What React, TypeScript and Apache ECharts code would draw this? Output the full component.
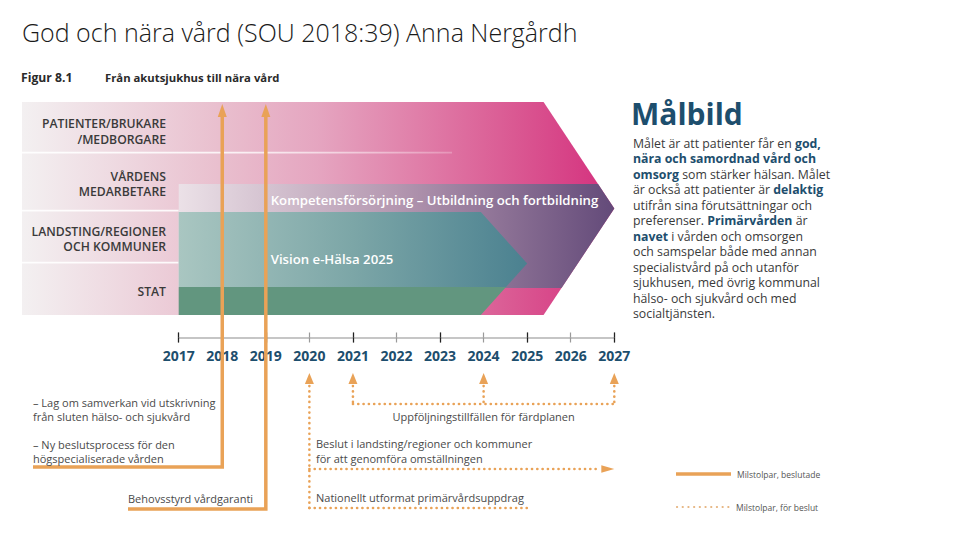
import React, { useEffect, useRef } from 'react';
import * as echarts from 'echarts';

// ---------------- data ----------------
const years = [2017, 2018, 2019, 2020, 2021, 2022, 2023, 2024, 2025, 2026, 2027];
const yearLabels = ['2017', '2018', '2019', '2020', '2021', '2022', '2023', '2024', '2025', '2026', '2027'];
const titleText = 'God och nära vård (SOU 2018:39) Anna Nergårdh';
const figureNumber = 'Figur 8.1';
const figureTitle = 'Från akutsjukhus till nära vård';
const rowLabels = ['PATIENTER/BRUKARE\n/MEDBORGARE', 'VÅRDENS\nMEDARBETARE', 'LANDSTING/REGIONER\nOCH KOMMUNER', 'STAT'];
const frameEndYear = 2027;
const bandNames = ['Kompetensförsörjning – Utbildning och fortbildning', 'Vision e-Hälsa 2025'];
const bandStartYears = [2017, 2017];
const bandEndYears = [2027, 2025];
const decidedYears = [2018, 2019];
const decidedTexts = [
  '– Lag om samverkan vid utskrivning\nfrån sluten hälso- och sjukvård\n\n– Ny beslutsprocess för den\nhögspecialiserade vården',
  'Behovsstyrd vårdgaranti',
];
const plannedYear = 2020;
const plannedBranchEndYears = [2027, 2025];
const plannedBranchTexts = [
  'Beslut i landsting/regioner och kommuner\nför att genomföra omställningen',
  'Nationellt utformat primärvårdsuppdrag',
];
const followUpYears = [2021, 2024, 2027];
const followUpText = 'Uppföljningstillfällen för färdplanen';
const legendLabels = ['Milstolpar, beslutade', 'Milstolpar, för beslut'];
const goalTitle = 'Målbild';
const goalLines: [boolean, string][][] = [
  [[false, 'Målet är att patienter får en '], [true, 'god,']],
  [[true, 'nära och samordnad vård och']],
  [[true, 'omsorg'], [false, ' som stärker hälsan. Målet']],
  [[false, 'är också att patienter är '], [true, 'delaktig']],
  [[false, 'utifrån sina förutsättningar och']],
  [[false, 'preferenser. '], [true, 'Primärvården'], [false, ' är']],
  [[true, 'navet'], [false, ' i vården och omsorgen']],
  [[false, 'och samspelar både med annan']],
  [[false, 'specialistvård på och utanför']],
  [[false, 'sjukhusen, med övrig kommunal']],
  [[false, 'hälso- och sjukvård och med']],
  [[false, 'socialtjänsten.']],
];

// ---------------- layout / style ----------------
const ORANGE = '#e9a257';
const BLUE = '#1d4e6d';
const FONT = 'Open Sans';
const L = {
  frameLeft: 22,
  frameTop: 102,
  frameBottom: 315,
  frameSlope: 0.664,
  rowLabelY: [131.5, 183.7, 239, 291],
  bands: [
    { top: 184, bottom: 288, tipY: 208.5, slope: 0.664, split: 0, labelY: 200,
      colors: ['#ebe1e7', '#b497b0', '#634a79'] },
    { top: 212, bottom: 315, tipY: 263.5, slope: 0.9, split: 287, labelY: 259,
      colors: ['#a9c6c1', '#7ca6a7', '#4b8190'], lower: '#62967f' },
  ],
  bandLabelDX: 92,
  decided: [
    { startX: 33, baseY: 467, textTop: 395 },
    { startX: 128, baseY: 509, textTop: 491 },
  ],
  decidedTipY: 104,
  planned: { tipY: 373, branchY: [469, 508], branchArrow: [true, false], textX: 316, textTop: [436, 490] },
  followUp: { tipY: 373, baseY: 404, textY: 416 },
};

const grad = (stops: string[]) =>
  new echarts.graphic.LinearGradient(0, 0, 1, 0, stops.map((c, i) => ({ offset: i / (stops.length - 1), color: c })));

const dotted = (points: number[][]) => ({
  type: 'polyline',
  shape: { points },
  style: { stroke: ORANGE, lineWidth: 2.6, lineDash: [0.1, 5.2], lineCap: 'round', fill: 'none' },
});
const upArrow = (x: number, tipY: number, hw = 4.5, h = 11) => ({
  type: 'polygon',
  shape: { points: [[x, tipY], [x - hw, tipY + h], [x + hw, tipY + h]] },
  style: { fill: ORANGE },
});
const smallText = (text: string, x: number, y: number, extra: any = {}) => ({
  type: 'text',
  style: { text, x, y, fill: '#4a4a4a', fontSize: 11, fontFamily: FONT, lineHeight: 15, verticalAlign: 'top', ...extra },
});

const goalRich = goalLines
  .map((segs) => segs.map(([b, t]) => `{${b ? 'b' : 'r'}|${t}}`).join(''))
  .join('\n');

const xBase = {
  type: 'value',
  min: years[0],
  max: years[years.length - 1],
  position: 'bottom',
  splitLine: { show: false },
  axisLabel: { show: false },
  axisLine: { show: false },
};

const option: any = {
  animation: false,
  backgroundColor: '#ffffff',
  grid: { left: 178.7, right: 345.7, top: 100, bottom: 202.5, containLabel: false, outerBoundsMode: 'none' },
  yAxis: { type: 'value', min: 0, max: 1, show: false },
  xAxis: [
    {
      ...xBase,
      interval: 1,
      axisLine: { show: true, lineStyle: { color: '#b3b3b3', width: 1.5 } },
      axisTick: { show: true, length: 5, lineStyle: { color: '#9a9a9a', width: 1.2 } },
      axisLabel: {
        show: true,
        margin: 11,
        formatter: (v: number) => yearLabels[years.indexOf(v)] ?? '',
        color: BLUE,
        fontSize: 14,
        fontWeight: 'bold',
        fontFamily: FONT,
      },
    },
    { ...xBase, interval: 1, axisTick: { show: true, inside: true, length: 5, lineStyle: { color: '#9a9a9a', width: 1.2 } } },
    { ...xBase, interval: 2, axisTick: { show: true, length: 5, lineStyle: { color: '#222', width: 1.2 } } },
    { ...xBase, interval: 2, axisTick: { show: true, inside: true, length: 5, lineStyle: { color: '#222', width: 1.2 } } },
  ],
  series: [
    {
      type: 'custom',
      name: 'frame',
      clip: false,
      silent: true,
      z: 1,
      data: [[frameEndYear, 0]],
      renderItem: (params: any, api: any) => {
        const tipX = api.coord([api.value(0), 0])[0];
        const sx = api.coord([years[0], 0])[0];
        const top = L.frameTop, bot = L.frameBottom, mid = (top + bot) / 2;
        const sh = tipX - L.frameSlope * (mid - top);
        return {
          type: 'group',
          children: [
            {
              type: 'polygon',
              shape: { points: [[L.frameLeft, top], [sh, top], [tipX, mid], [sh, bot], [L.frameLeft, bot]] },
              style: { fill: grad(['#f3f0f1', '#eed8e0', '#e9bfce', '#e5a5c0', '#e07fa9', '#da5892', '#d42f7d']) },
            },
            {
              type: 'rect',
              shape: { x: L.frameLeft, y: 151.8, width: 430, height: 1.6 },
              style: { fill: grad(['rgba(255,255,255,0.95)', 'rgba(255,255,255,0.8)', 'rgba(255,255,255,0.25)']) },
            },
            { type: 'rect', shape: { x: L.frameLeft, y: 209.8, width: sx - L.frameLeft, height: 1.6 }, style: { fill: 'rgba(255,255,255,0.9)' } },
            { type: 'rect', shape: { x: L.frameLeft, y: 261.8, width: sx - L.frameLeft, height: 1.6 }, style: { fill: 'rgba(255,255,255,0.9)' } },
          ],
        };
      },
    },
    {
      type: 'custom',
      name: 'bands',
      clip: false,
      silent: true,
      z: 2,
      encode: { x: [0, 1], y: 2 },
      data: bandStartYears.map((s, i) => [s, bandEndYears[i], 0]),
      renderItem: (params: any, api: any) => {
        const i = params.dataIndex;
        const sx = api.coord([api.value(0), 0])[0];
        const tip = api.coord([api.value(1), 0])[0];
        const B: any = L.bands[i];
        const edge = (y: number) => tip - B.slope * Math.abs(y - B.tipY);
        const ub = B.split || B.bottom;
        const children: any[] = [
          {
            type: 'polygon',
            shape: { points: [[sx, B.top], [edge(B.top), B.top], [tip, B.tipY], [edge(ub), ub], [sx, ub]] },
            style: { fill: grad(B.colors) },
          },
        ];
        if (B.split) {
          children.push({
            type: 'polygon',
            shape: { points: [[sx, B.split], [edge(B.split), B.split], [edge(B.bottom), B.bottom], [sx, B.bottom]] },
            style: { fill: B.lower },
          });
        }
        children.push({
          type: 'text',
          style: {
            text: bandNames[i], x: sx + L.bandLabelDX, y: B.labelY, fill: '#ffffff',
            fontSize: 13.2, fontWeight: 600, fontFamily: FONT, verticalAlign: 'middle',
          },
        });
        return { type: 'group', children };
      },
    },
    {
      type: 'custom',
      name: 'decided',
      clip: false,
      silent: true,
      z: 3,
      data: decidedYears.map((y) => [y, 0]),
      renderItem: (params: any, api: any) => {
        const i = params.dataIndex;
        const x = api.coord([api.value(0), 0])[0];
        const D = L.decided[i];
        return {
          type: 'group',
          children: [
            {
              type: 'polyline',
              shape: { points: [[D.startX, D.baseY], [x, D.baseY], [x, L.decidedTipY + 10]] },
              style: { stroke: ORANGE, lineWidth: 3.5, fill: 'none' },
            },
            upArrow(x, L.decidedTipY, 4.5, 13),
            smallText(decidedTexts[i], D.startX, D.textTop, { lineHeight: 14 }),
          ],
        };
      },
    },
    {
      type: 'custom',
      name: 'planned',
      clip: false,
      silent: true,
      z: 3,
      data: [[plannedYear, 0]],
      renderItem: (params: any, api: any) => {
        const x = api.coord([api.value(0), 0])[0];
        const P = L.planned;
        const bottomY = Math.max(...P.branchY);
        const ch: any[] = [dotted([[x, P.tipY + 13], [x, bottomY]]), upArrow(x, P.tipY)];
        plannedBranchEndYears.forEach((ey, k) => {
          const ex = api.coord([ey, 0])[0];
          const y = P.branchY[k];
          const arrow = P.branchArrow[k];
          ch.push(dotted([[x, y], [arrow ? ex - 14 : ex, y]]));
          if (arrow) ch.push({ type: 'polygon', shape: { points: [[ex, y], [ex - 13, y - 3.8], [ex - 13, y + 3.8]] }, style: { fill: ORANGE } });
          ch.push(smallText(plannedBranchTexts[k], P.textX, P.textTop[k]));
        });
        return { type: 'group', children: ch };
      },
    },
    {
      type: 'custom',
      name: 'followups',
      clip: false,
      silent: true,
      z: 3,
      data: followUpYears.map((y) => [y, 0]),
      renderItem: (params: any, api: any) => {
        const i = params.dataIndex;
        const x = api.coord([api.value(0), 0])[0];
        const F = L.followUp;
        const ch: any[] = [dotted([[x, F.tipY + 13], [x, F.baseY]]), upArrow(x, F.tipY)];
        if (i === 0) {
          const x1 = api.coord([followUpYears[followUpYears.length - 1], 0])[0];
          ch.push(dotted([[x, F.baseY], [x1, F.baseY]]));
          ch.push(smallText(followUpText, (x + x1) / 2, F.textY, { align: 'center', verticalAlign: 'middle' }));
        }
        return { type: 'group', children: ch };
      },
    },
  ],
  graphic: [
    { type: 'text', z: 100, style: { text: titleText, x: 22, y: 32, fill: '#1a1a1a', fontSize: 25, fontFamily: FONT, fontWeight: 300, verticalAlign: 'middle' } },
    { type: 'text', z: 100, style: { text: figureNumber, x: 21, y: 77, fill: '#2a2a2a', fontSize: 12.2, fontFamily: FONT, fontWeight: 'bold', verticalAlign: 'middle' } },
    { type: 'text', z: 100, style: { text: figureTitle, x: 105, y: 77, fill: '#2a2a2a', fontSize: 11.3, fontFamily: FONT, fontWeight: 'bold', verticalAlign: 'middle' } },
    ...rowLabels.map((t, i) => ({
      type: 'text',
      z: 100,
      style: {
        text: t, x: 166, y: L.rowLabelY[i], fill: '#3a3a3a', fontSize: 12.2, fontFamily: FONT,
        fontWeight: 600, align: 'right', verticalAlign: 'middle', lineHeight: 15.3,
      },
    })),
    { type: 'text', z: 100, style: { text: goalTitle, x: 631, y: 113, fill: BLUE, fontSize: 30, fontFamily: FONT, fontWeight: 'bold', verticalAlign: 'middle' } },
    {
      type: 'text',
      z: 100,
      style: {
        text: goalRich, x: 633, y: 135.5, fontSize: 12.3, lineHeight: 15.5, fontFamily: FONT, verticalAlign: 'top',
        rich: {
          r: { fontSize: 12.3, lineHeight: 15.5, fontFamily: FONT, fill: '#3a3a3a' },
          b: { fontSize: 12.3, lineHeight: 15.5, fontFamily: FONT, fill: BLUE, fontWeight: 'bold' },
        },
      },
    },
    { type: 'line', z: 100, shape: { x1: 676, y1: 474, x2: 731, y2: 474 }, style: { stroke: ORANGE, lineWidth: 3.5 } },
    {
      type: 'line', z: 100, shape: { x1: 677, y1: 507, x2: 731, y2: 507 },
      style: { stroke: '#e6b47f', lineWidth: 2.2, lineDash: [0.1, 5.6], lineCap: 'round' },
    },
    { type: 'text', z: 100, style: { text: legendLabels[0], x: 737, y: 474, fill: '#555', fontSize: 8.5, fontFamily: FONT, verticalAlign: 'middle' } },
    { type: 'text', z: 100, style: { text: legendLabels[1], x: 736, y: 507, fill: '#555', fontSize: 8.5, fontFamily: FONT, verticalAlign: 'middle' } },
  ],
};

export default function App() {
  const ref = useRef<HTMLDivElement>(null);
  useEffect(() => {
    const chart = echarts.init(ref.current!, null, { renderer: 'svg' });
    chart.setOption(option);
    return () => chart.dispose();
  }, []);
  return (
    <div
      ref={ref}
      style={{ position: 'fixed', left: 0, top: 0, width: 960, height: 540, background: '#ffffff' }}
    />
  );
}
